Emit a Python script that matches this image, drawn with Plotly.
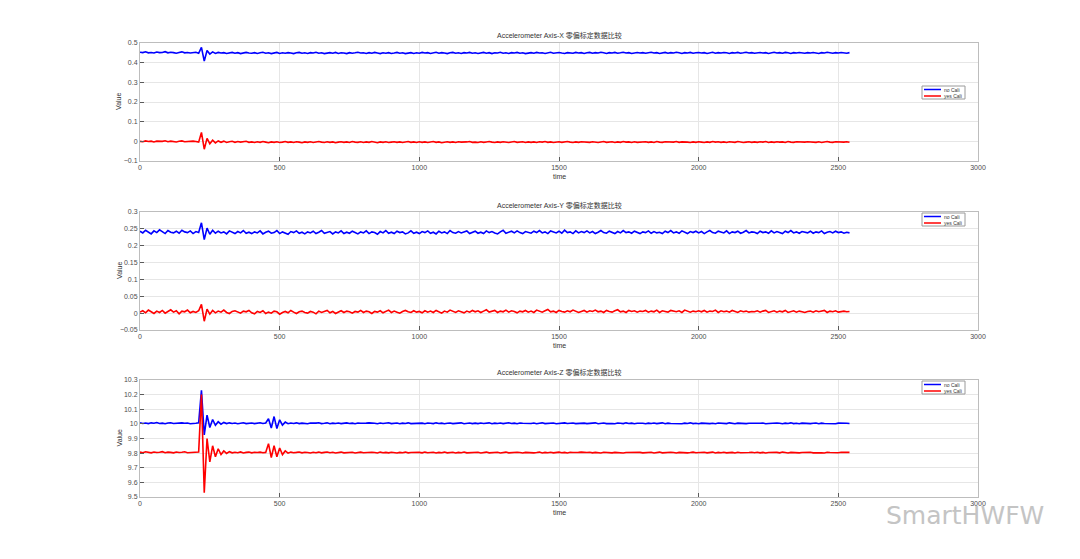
import plotly.graph_objects as go

# ---------------- data ----------------
# sample times: one reading every 10 time units, 0 .. 2540
time = list(range(0, 2550, 10))

# Axis X, values in thousandths
x_no_cali_milli = [
    453,451,455,450,452,449,454,451,452,456,450,453,451,448,452,455,450,452,449,451,
    453,448,478,408,462,444,455,447,452,449,451,447,450,452,448,451,446,450,452,449,
    448,451,447,450,453,448,450,446,449,452,447,450,448,451,449,446,450,452,448,450,
    447,451,449,453,448,450,446,449,451,448,452,447,450,449,446,451,448,450,453,449,
    450,447,451,448,452,449,446,450,448,451,447,449,452,448,450,446,449,451,447,450,
    448,452,449,451,447,450,453,448,451,449,446,450,452,448,450,447,451,449,452,448,
    450,447,449,452,448,451,446,450,449,453,448,450,447,451,449,452,448,450,446,449,
    451,448,452,449,450,447,451,453,448,450,452,449,447,451,450,448,452,449,451,447,
    450,452,448,451,449,453,450,447,451,449,452,448,450,453,449,451,447,450,452,449,
    451,448,450,453,449,451,447,450,452,448,451,449,453,450,447,451,449,452,448,450,
    452,449,451,447,450,453,448,451,449,452,450,447,451,449,452,448,450,453,449,451,
    448,450,452,449,451,447,450,453,449,451,448,452,450,447,451,449,452,450,448,451,
    449,452,450,447,451,449,453,450,448,451,449,452,450,448,451,
]
x_yes_cali_milli = [
    0,-2,2,-1,1,-3,1,-1,0,3,-2,1,-1,-3,0,2,-2,0,-1,1,
    -1,-4,45,-40,15,-12,6,-8,2,-5,1,-6,-2,0,-5,-1,-4,-2,0,-5,
    -3,-6,-2,-5,-1,-4,-7,-3,-5,-2,-6,-4,-1,-5,-3,-6,-2,-4,-7,-3,
    -5,-2,-6,-3,-1,-4,-6,-2,-5,-3,-7,-4,-2,-5,-3,-6,-1,-4,-5,-2,
    -6,-3,-5,-1,-4,-7,-3,-5,-2,-6,-4,-2,-5,-3,-6,-4,-1,-5,-3,-6,
    -2,-5,-3,-6,-4,-1,-5,-3,-7,-4,-2,-5,-3,-6,-2,-4,-5,-3,-1,-5,
    -4,-6,-2,-5,-3,-1,-4,-6,-3,-5,-2,-4,-6,-3,-1,-5,-4,-2,-6,-3,
    -5,-3,-6,-2,-4,-1,-5,-3,-6,-4,-2,-5,-3,-1,-4,-6,-3,-5,-2,-4,
    -3,-5,-2,-4,-6,-3,-1,-5,-4,-2,-6,-3,-5,-1,-4,-3,-6,-2,-5,-3,
    -4,-2,-5,-3,-6,-1,-4,-5,-2,-3,-6,-4,-1,-5,-3,-2,-4,-6,-3,-5,
    -2,-4,-6,-3,-5,-1,-4,-2,-5,-3,-6,-2,-4,-5,-1,-3,-6,-4,-2,-5,
    -3,-5,-2,-4,-1,-6,-3,-5,-2,-4,-3,-6,-1,-4,-5,-2,-3,-5,-4,-2,
    -4,-3,-5,-2,-6,-3,-1,-4,-5,-2,-3,-6,-4,-2,-5,
]

# Axis Y, values in thousandths
y_no_cali_milli = [
    243,238,246,240,235,244,239,247,241,236,245,240,238,243,237,246,241,239,244,236,
    242,239,268,218,252,234,246,237,243,238,241,235,244,239,236,242,238,245,237,240,
    236,241,238,244,235,240,243,237,239,245,236,241,238,234,242,239,244,237,240,235,
    241,238,243,236,240,245,237,239,242,235,241,238,244,236,240,237,243,239,235,241,
    238,244,236,241,239,234,242,238,245,237,240,236,243,239,241,235,238,244,237,240,
    236,242,239,244,237,240,235,243,238,241,236,245,239,237,242,238,240,244,236,239,
    243,237,240,236,244,239,242,238,235,241,246,237,240,243,238,244,239,236,242,240,
    237,243,239,245,238,241,236,244,240,238,243,237,246,239,241,236,244,238,242,239,
    244,238,242,236,240,245,239,237,243,240,236,242,238,245,239,241,237,243,240,236,
    241,239,244,237,242,238,240,236,243,239,245,238,241,237,244,240,236,242,239,243,
    238,242,236,241,245,239,237,243,240,238,244,236,241,239,243,237,240,245,238,241,
    240,236,243,239,241,237,244,238,242,240,236,243,239,245,238,241,237,242,240,238,
    243,237,241,239,244,236,240,242,238,243,239,241,237,240,238,
]
y_yes_cali_milli = [
    3,7,1,9,4,-1,6,2,8,0,5,10,3,7,-2,6,4,9,1,5,
    2,7,26,-24,12,-3,8,1,6,3,9,2,-1,5,7,3,0,6,4,8,
    1,-2,5,2,7,-1,3,0,6,4,-3,2,5,1,8,3,-1,4,6,2,
    0,5,3,-2,6,2,4,8,1,5,-1,3,7,2,6,4,0,5,3,8,
    2,6,4,-1,5,3,7,1,4,9,2,6,3,0,5,8,4,2,7,3,
    5,1,7,3,6,2,8,4,0,6,3,9,5,2,7,4,1,6,3,8,
    4,7,2,6,10,3,5,8,2,6,4,9,3,7,5,1,6,4,8,3,
    6,2,9,5,3,7,11,4,6,2,8,5,3,7,4,9,6,2,5,8,
    3,7,5,9,4,6,2,8,5,3,7,10,4,6,2,8,5,7,3,6,
    5,8,3,6,4,9,2,7,5,3,8,6,4,7,2,9,5,3,6,4,
    7,4,8,3,6,5,9,2,7,4,6,3,8,5,2,7,4,6,3,5,
    4,7,3,6,8,2,5,7,3,6,4,8,2,5,7,3,6,4,2,5,
    6,3,7,4,5,8,2,6,4,7,3,5,6,4,5,
]

# Axis Z, values in thousandths
z_no_cali_milli = [
    10008,10003,10006,10002,10007,10004,10009,10003,10005,10001,10006,10008,10003,10005,10002,10007,10004,10006,10001,10005,
    10004,10007,10230,9925,10060,9975,10030,9990,10015,9998,10010,10002,10007,10003,10006,10001,10005,10008,10002,10004,
    10006,10002,10005,10008,10003,10006,10035,9972,10050,9968,10028,9992,10012,10001,10006,10003,10007,10002,10005,10004,
    10001,10006,10003,10005,10008,10002,10004,10007,10001,10005,10003,10006,10002,10004,10007,10003,10005,10001,10006,10004,
    10002,10005,10007,10003,10004,10001,10006,10003,10005,10008,10002,10004,10006,10001,10005,10003,10007,10002,10004,10006,
    10003,10005,10001,10006,10004,10002,10007,10003,10005,10001,10004,10006,10002,10005,10003,10007,10001,10004,10006,10002,
    10005,10002,10006,10003,10004,10007,10001,10005,10003,10006,10002,10004,10008,10003,10005,10001,10006,10004,10002,10005,
    10003,10006,10001,10004,10007,10002,10005,10003,10006,10001,10004,10002,10007,10003,10005,10006,10002,10004,10001,10005,
    10002,10005,10003,10007,10001,10004,10006,10002,10005,10003,10001,10006,10004,10002,10007,10003,10005,10001,10004,10006,
    10004,10001,10005,10003,10006,10002,10004,10007,10001,10005,10003,10002,10006,10004,10001,10005,10003,10007,10002,10004,
    10001,10005,10003,10006,10002,10004,10001,10006,10003,10005,10002,10007,10004,10001,10005,10003,10006,10002,10004,10003,
    10005,10002,10004,10006,10001,10003,10005,10002,10006,10004,10001,10005,10003,10007,10002,10004,10001,10005,10003,10006,
    10002,10004,10006,10001,10005,10003,10002,10006,10004,10001,10005,10003,10002,10004,10003,
]
z_yes_cali_milli = [
    9807,9803,9809,9805,9802,9808,9804,9806,9810,9803,9807,9805,9802,9808,9804,9806,9809,9803,9805,9807,
    9804,9808,10200,9530,9900,9740,9850,9775,9830,9790,9815,9798,9810,9802,9806,9803,9808,9801,9805,9807,
    9802,9806,9804,9807,9803,9805,9865,9770,9850,9775,9835,9790,9815,9800,9807,9803,9805,9808,9802,9806,
    9804,9801,9806,9803,9807,9802,9805,9808,9803,9806,9801,9804,9807,9802,9805,9803,9806,9801,9804,9807,
    9803,9805,9802,9806,9804,9801,9807,9803,9805,9802,9806,9804,9801,9805,9803,9807,9802,9804,9806,9803,
    9805,9802,9807,9803,9804,9806,9801,9805,9803,9807,9802,9804,9806,9801,9805,9803,9808,9802,9804,9806,
    9803,9806,9801,9804,9807,9802,9805,9803,9806,9801,9804,9807,9802,9805,9803,9806,9804,9801,9805,9803,
    9806,9802,9804,9807,9801,9805,9803,9806,9802,9804,9807,9803,9805,9801,9806,9804,9802,9805,9807,9803,
    9804,9806,9802,9805,9803,9801,9806,9804,9807,9802,9805,9803,9806,9801,9804,9805,9802,9807,9803,9805,
    9802,9805,9803,9806,9801,9804,9807,9802,9805,9803,9806,9804,9801,9805,9803,9806,9802,9804,9807,9803,
    9805,9803,9806,9802,9804,9807,9801,9805,9803,9806,9802,9804,9805,9801,9806,9803,9805,9802,9804,9806,
    9803,9806,9802,9805,9801,9804,9806,9803,9805,9802,9807,9804,9801,9805,9803,9806,9802,9804,9805,9803,
    9806,9802,9804,9805,9803,9801,9806,9804,9802,9805,9803,9806,9804,9802,9805,
]

titles = ["Accelerometer Axis-X 零偏标定数据比较",
          "Accelerometer Axis-Y 零偏标定数据比较",
          "Accelerometer Axis-Z 零偏标定数据比较"]
series_names = ["no Cali", "yes Cali"]
x_ticks = [0, 500, 1000, 1500, 2000, 2500, 3000]
y_ranges = [(-0.1, 0.5), (-0.05, 0.3), (9.5, 10.3)]
y_dticks = [0.1, 0.05, 0.1]

# unit conversion thousandths -> units
panels = [
    ([v / 1000 for v in x_no_cali_milli], [v / 1000 for v in x_yes_cali_milli]),
    ([v / 1000 for v in y_no_cali_milli], [v / 1000 for v in y_yes_cali_milli]),
    ([v / 1000 for v in z_no_cali_milli], [v / 1000 for v in z_yes_cali_milli]),
]

# ---------------- layout geometry (pixels) ----------------
W, H = 1080, 559
x_left, x_right = 140, 978
y_px = [(43, 161), (212, 330), (380, 497)]
title_py = [36, 205, 372]
xlabel_py = [176, 345, 512]
legend_box = [(922, 86, 965, 99), (922, 213, 965, 226), (922, 381, 965, 394)]

def px(p):
    return p / W

def py(p):
    return 1 - p / H

fig = go.Figure()
colors = ["#0000ff", "#ff0000"]

for i, (no_c, yes_c) in enumerate(panels):
    ax = "" if i == 0 else str(i + 1)
    for j, vals in enumerate([no_c, yes_c]):
        fig.add_trace(go.Scatter(
            x=time, y=vals, mode="lines", name=series_names[j],
            line=dict(color=colors[j], width=1.6),
            xaxis="x" + ax, yaxis="y" + ax, showlegend=False,
        ))

tick_font = dict(family="Liberation Sans, Arial, sans-serif", size=7, color="#4d4d4d")
small_font = dict(family="Liberation Sans, Arial, sans-serif", size=7, color="#333")
annotations = []
shapes = []
layout = dict(
    width=W, height=H, margin=dict(l=0, r=0, t=0, b=0, autoexpand=False),
    paper_bgcolor="white", plot_bgcolor="white", showlegend=False,
)
for i in range(3):
    ax = "" if i == 0 else str(i + 1)
    top, bot = y_px[i]
    layout["xaxis" + ax] = dict(
        domain=[px(x_left), px(x_right)], anchor="y" + ax,
        range=[0, 3000], tickvals=x_ticks, ticks="inside", ticklen=4,
        tickcolor="#5a5a5a", showline=True, linecolor="#bdbdbd", linewidth=1,
        mirror=True, showgrid=True, gridcolor="#e6e6e6", gridwidth=1,
        zeroline=False, tickfont=tick_font,
    )
    layout["yaxis" + ax] = dict(
        domain=[py(bot), py(top)], anchor="x" + ax,
        range=list(y_ranges[i]), dtick=y_dticks[i], tick0=y_ranges[i][0],
        ticks="inside", ticklen=4, tickcolor="#5a5a5a",
        showline=True, linecolor="#bdbdbd", linewidth=1, mirror=True,
        showgrid=True, gridcolor="#e6e6e6", gridwidth=1, zeroline=False,
        tickfont=tick_font,
    )
    # compact MATLAB-like legend
    bx0, by0, bx1, by1 = legend_box[i]
    shapes.append(dict(type="rect", xref="paper", yref="paper",
                       x0=px(bx0), x1=px(bx1), y0=py(by1), y1=py(by0),
                       fillcolor="white", line=dict(color="#9a9a9a", width=1)))
    for j in range(2):
        ly = by0 + 3.5 + j * 6.5
        shapes.append(dict(type="line", xref="paper", yref="paper",
                           x0=px(bx0 + 2), x1=px(bx0 + 19), y0=py(ly), y1=py(ly),
                           line=dict(color=colors[j], width=1.5)))
        annotations.append(dict(
            text=series_names[j], x=px(bx0 + 20), y=py(ly), xref="paper", yref="paper",
            showarrow=False, xanchor="left", yanchor="middle",
            font=dict(family="Liberation Sans, Arial, sans-serif", size=5, color="#333"),
        ))
    annotations.append(dict(
        text=titles[i], x=px((x_left + x_right) / 2), y=py(title_py[i]),
        xref="paper", yref="paper", showarrow=False, xanchor="center", yanchor="middle",
        font=dict(family="Liberation Sans, Noto Sans CJK SC, sans-serif", size=7, color="#333"),
    ))
    annotations.append(dict(
        text="time", x=px((x_left + x_right) / 2), y=py(xlabel_py[i]),
        xref="paper", yref="paper", showarrow=False, xanchor="center", yanchor="middle",
        font=small_font,
    ))
    annotations.append(dict(
        text="Value", x=px(119), y=py((top + bot) / 2), textangle=-90,
        xref="paper", yref="paper", showarrow=False, xanchor="center", yanchor="middle",
        font=small_font,
    ))

# watermark
annotations.append(dict(
    text="SmartHWFW", x=px(1046), y=py(515), xref="paper", yref="paper",
    showarrow=False, xanchor="right", yanchor="middle",
    font=dict(family="DejaVu Sans, sans-serif", size=25, color="#c4c4c4"),
))
layout["annotations"] = annotations
layout["shapes"] = shapes
fig.update_layout(**layout)

fig.write_html(
    "out.html",
    config={"displayModeBar": False},
    post_script="document.body.style.margin='0';document.body.style.overflow='hidden';",
)
